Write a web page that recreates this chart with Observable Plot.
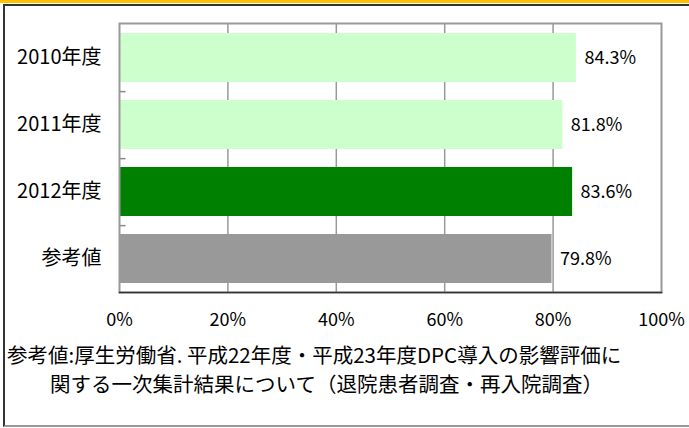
<!DOCTYPE html>
<html><head><meta charset="utf-8">
<script src="https://cdn.jsdelivr.net/npm/d3@7"></script>
<script src="https://cdn.jsdelivr.net/npm/@observablehq/plot@0.6"></script>
<style>
body{margin:0;background:#fff;}
#wrap{position:relative;width:689px;height:428px;overflow:hidden;font-family:"Noto Sans CJK JP",sans-serif;color:#000;}
#band{position:absolute;left:0;top:0;width:689px;height:3px;background:#ffc000;}
#box{position:absolute;left:3px;top:4px;width:700px;height:419px;border-left:2px solid #333;border-top:2px solid #333;border-bottom:2px solid #999;}
#chart{position:absolute;left:0;top:0;}
#note{position:absolute;left:7px;top:340px;font-size:20.5px;line-height:29px;white-space:nowrap;}
#note .l2{padding-left:43px;}
</style>
</head><body>
<div id="wrap">
<div id="band"></div>
<div id="box"></div>
<div id="chart"></div>
<div id="note"><div>参考値:厚生労働省. 平成22年度・平成23年度DPC導入の影響評価に</div><div class="l2">関する一次集計結果について（退院患者調査・再入院調査）</div></div>
</div>
<script>
const categories = ["2010年度", "2011年度", "2012年度", "参考値"];
const values = [84.3, 81.8, 83.6, 79.8];
const valueLabels = ["84.3%", "81.8%", "83.6%", "79.8%"];
const barColors = ["#ccffcc", "#ccffcc", "#008000", "#999999"];
const xTicks = [0, 20, 40, 60, 80, 100];
const gridTicks = [20, 40, 60, 80];

const data = categories.map((c, i) => ({cat: c, value: values[i], label: valueLabels[i], color: barColors[i]}));
const font = '"Noto Sans CJK JP",sans-serif';
const step = (292 - 23) / 4;

const chart = Plot.plot({
  width: 689,
  height: 345,
  marginLeft: 119,
  marginRight: 28,
  marginTop: 23,
  marginBottom: 53,
  style: {fontFamily: font, fontSize: "18px", color: "#000", background: "transparent"},
  x: {domain: [0, 100], ticks: xTicks, tickFormat: d => d + "%", tickSize: 0, tickPadding: 21, label: null},
  y: {domain: categories, paddingInner: 0.27, paddingOuter: 0.135, tickSize: 0, tickPadding: 18, label: null},
  color: {type: "identity"},
  marks: [
    Plot.ruleX(gridTicks, {stroke: "#999", strokeWidth: 1.5}),
    Plot.barX(data, {x: "value", y: "cat", fill: "color"}),
    Plot.ruleY(categories.slice(0, 3), {x1: 0, x2: 1.2, dy: step / 2, stroke: "#888", strokeWidth: 1.5}),
    Plot.text(data, {x: "value", y: "cat", text: "label", textAnchor: "start", dx: 8, fontSize: 18, fill: "#000"}),
    Plot.frame({stroke: "#999", strokeWidth: 2}),
    Plot.frame({anchor: "bottom", stroke: "#333", strokeWidth: 1.5})
  ]
});
chart.querySelectorAll('[aria-label="y-axis tick label"] text').forEach(t => t.setAttribute("font-size", "20"));
document.getElementById("chart").appendChild(chart);
</script>
</body></html>
